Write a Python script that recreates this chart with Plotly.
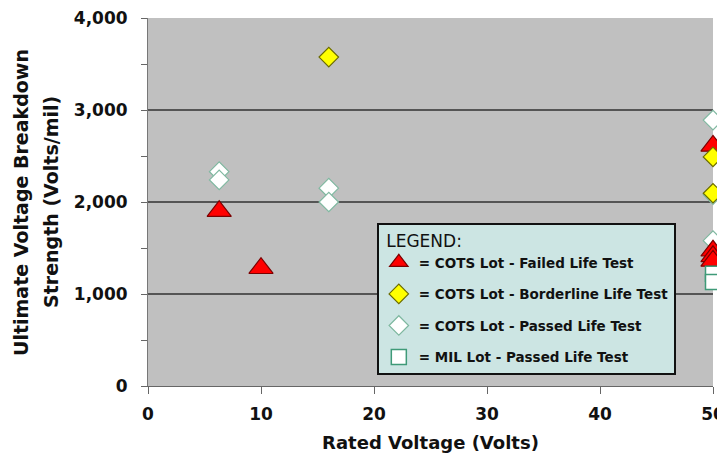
import plotly.graph_objects as go

# Data
failed_x = [6.3, 10, 50, 50, 50, 50]
failed_y = [1900, 1280, 2610, 1470, 1410, 1360]
border_x = [16, 50, 50]
border_y = [3575, 2490, 2095]
passed_x = [6.3, 6.3, 16, 16, 50, 50, 50]
passed_y = [2330, 2240, 2150, 2000, 2890, 1580, 2080]
mil_x = [50, 50]
mil_y = [1220, 1130]

x_ticks = [0, 10, 20, 30, 40, 50]
y_ticks = [0, 1000, 2000, 3000, 4000]

names = {
    "failed": "= COTS Lot - Failed Life Test",
    "border": "= COTS Lot - Borderline Life Test",
    "passed": "= COTS Lot - Passed Life Test",
    "mil": "= MIL Lot - Passed Life Test",
}

fig = go.Figure()
fig.add_trace(go.Scatter(
    x=passed_x, y=passed_y, mode="markers", name=names["passed"],
    legendrank=3, legendgroup="c",
    marker=dict(symbol="diamond", size=15, color="white",
                line=dict(color="#7fb8a0", width=1.2)),
    cliponaxis=False))
fig.add_trace(go.Scatter(
    x=failed_x, y=failed_y, mode="markers", name=names["failed"],
    legendrank=1, legendgroup="a",
    marker=dict(symbol="triangle-up", size=21, color="#ff0000",
                line=dict(color="#7a0000", width=1.2)),
    cliponaxis=False))
fig.add_trace(go.Scatter(
    x=border_x, y=border_y, mode="markers", name=names["border"],
    legendrank=2, legendgroup="b",
    marker=dict(symbol="diamond", size=15, color="#ffff00",
                line=dict(color="#6b6b00", width=1.2)),
    cliponaxis=False))
fig.add_trace(go.Scatter(
    x=mil_x, y=mil_y, mode="markers", name=names["mil"],
    legendrank=4, legendgroup="d",
    marker=dict(symbol="square", size=15, color="white",
                line=dict(color="#3f9a78", width=1.5)),
    cliponaxis=False))

font_fam = "DejaVu Sans, Verdana, sans-serif"
fig.update_layout(
    width=717, height=454,
    margin=dict(l=140, r=12, t=10, b=76, autoexpand=False),
    paper_bgcolor="white", plot_bgcolor="#c0c0c0",
    font=dict(family=font_fam, color="#111111", size=15),
    showlegend=True,
    legend=dict(
        x=0.405, y=0.443, xanchor="left", yanchor="top",
        bgcolor="#cce5e3", bordercolor="#111111", borderwidth=2,
        font=dict(family=font_fam, size=13.5, color="#111111", weight="bold"),
        title=dict(text=" LEGEND:", font=dict(family=font_fam, size=17, color="#111111", weight="normal")),
        tracegroupgap=11, itemsizing="trace",
    ),
    xaxis=dict(
        range=[0, 50], tickvals=x_ticks, automargin=False,
        ticklabeloverflow="allow",
        showgrid=False, zeroline=False,
        showline=True, linecolor="#666666", linewidth=1,
        ticks="outside", ticklen=7, tickcolor="#666666",
        ticklabelstandoff=6,
        tickfont=dict(family=font_fam, size=17, weight="bold"),
        title=dict(text="<b>Rated Voltage (Volts)</b>", font=dict(size=18), standoff=12),
    ),
    yaxis=dict(
        range=[0, 4000], tickvals=y_ticks, tickformat=",", automargin=False,
        ticklabeloverflow="allow",
        showgrid=True, gridcolor="#555555", gridwidth=1.6,
        zeroline=False,
        showline=True, linecolor="#777777", linewidth=1,
        ticks="outside", ticklen=6, tickcolor="#666666",
        ticklabelstandoff=10,
        minor=dict(dtick=500, ticks="outside", ticklen=6, tickcolor="#666666", showgrid=False),
        tickfont=dict(family=font_fam, size=17, weight="bold"),
    ),
    annotations=[
        dict(text="<b>Ultimate Voltage Breakdown</b>", textangle=-90,
             xref="paper", yref="paper", x=-0.2248, y=0.5, xanchor="center", yanchor="middle",
             showarrow=False, font=dict(family=font_fam, size=19, color="#111111")),
        dict(text="<b>Strength (Volts/mil)</b>", textangle=-90,
             xref="paper", yref="paper", x=-0.1717, y=0.5, xanchor="center", yanchor="middle",
             showarrow=False, font=dict(family=font_fam, size=19, color="#111111")),
    ],
)

fig.write_html("out.html")
